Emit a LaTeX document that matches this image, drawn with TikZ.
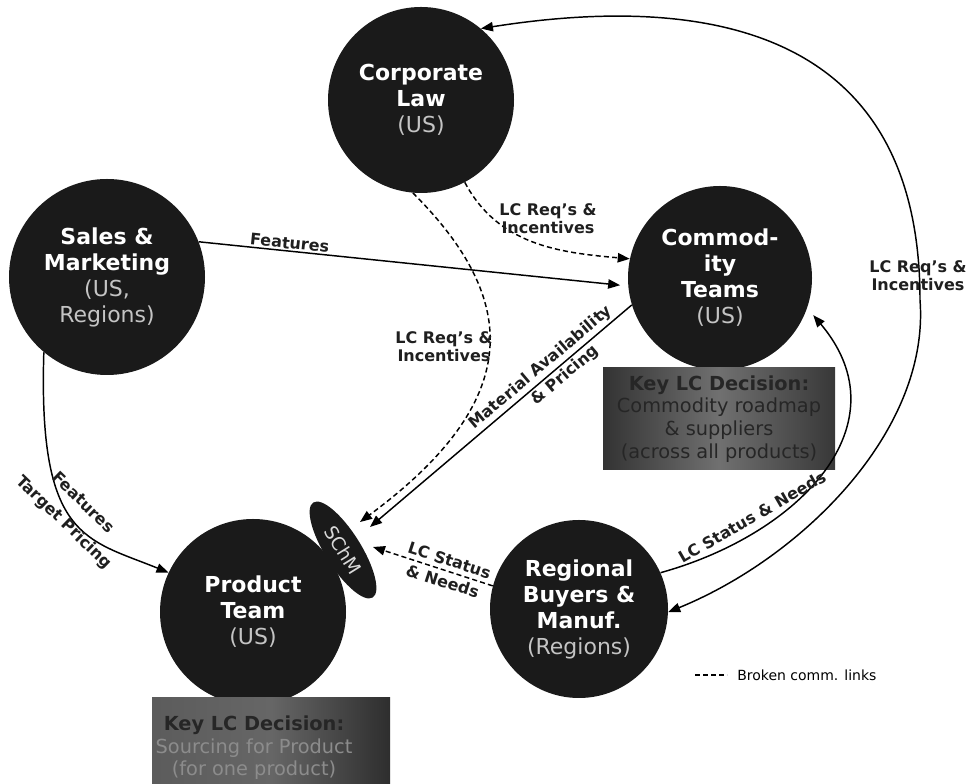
\documentclass[tikz,border=0pt]{standalone}
\usepackage{fontspec}
\setmainfont{DejaVu Sans}
\usetikzlibrary{arrows.meta,shapes.geometric}
\definecolor{hubfill}{HTML}{1A1A1A}
\definecolor{subgray}{HTML}{C4C4C4}
\definecolor{boxtext}{HTML}{262626}
\newcommand\hubsub[1]{{\mdseries\color{subgray}#1}}

\begin{document}
\begin{tikzpicture}[x=0.75pt,y=0.75pt,
  hub/.style={circle, fill=hubfill, inner sep=0pt, align=center, text=white,
    font=\fontsize{16.5}{19.5}\selectfont\bfseries},
  lab/.style={font=\fontsize{12}{13.5}\selectfont\bfseries, text=black!88,
    align=center, inner sep=1pt},
  tip/.tip={Triangle[length=9pt,width=7pt]},
  link/.style={line width=1.1pt, -tip},
  brk/.style={link, dash pattern=on 3.8pt off 2.4pt},
  keybox/.style={rectangle, inner sep=0pt, align=center,
    font=\fontsize{14.5}{17}\selectfont, text=boxtext},
]
\useasboundingbox (0,0) rectangle (971,784);
\clip (0,0) rectangle (971,784);
\fill[white] (0,0) rectangle (971,784);

% organisations
\node[hub, minimum size=139.5pt] (corp) at (421,684) {Corporate\\Law\\\hubsub{(US)}};
\node[hub, minimum size=147pt] (sales) at (107,507) {Sales \&\\Marketing\\\hubsub{(US,}\\\hubsub{Regions)}};
\node[hub, minimum size=138pt] (comm) at (720,506) {Commod-\\ity\\Teams\\\hubsub{(US)}};
\node[hub, minimum size=139.5pt] (prod) at (253,172) {Product\\Team\\\hubsub{(US)}};
\node[hub, minimum size=133.5pt] (reg) at (579,175) {Regional\\Buyers \&\\Manuf.\\\hubsub{(Regions)}};

% supply chain manager
\node[ellipse, fill=hubfill, minimum width=84pt, minimum height=27pt, inner sep=0pt,
  rotate=-58, text=white!85!black, font=\fontsize{14}{16}\selectfont] (schm) at (343,234) {SChM};
\coordinate (schmA) at (360,262);
\coordinate (schmB) at (370,257);
\coordinate (schmC) at (373,237);

% key decision boxes
\node[keybox, minimum width=174pt, minimum height=76.5pt,
  left color=black!80, right color=black!78, middle color=black!56] (commkey) at (719,365)
  {{\bfseries Key LC Decision:}\\Commodity roadmap\\\& suppliers\\(across all products)};
\node[keybox, minimum width=178.5pt, minimum height=76.5pt,
  left color=black!64, right color=black!82, middle color=black!60] (prodkey) at (271,35) {};
\node[keybox] (prodkeytext) at (254,36)
  {{\bfseries Key LC Decision:}\\{\color{black!45}Sourcing for Product}\\{\color{black!45}(for one product)}};

% communication links
\draw[link, shorten >=6pt] (sales.21) -- (comm.185)
  node[lab, above, sloped, pos=0.21] (lfeat) {Features};

\draw[brk] (corp.-62) to[out=-62, in=175] (comm.168);
\node[lab] (lreq1) at (548,565) {LC Req’s \&\\Incentives};

\draw[brk] (corp.-95) .. controls (520,484) and (525,384) .. (schmA);
\node[lab] (lreq2) at (444,437) {LC Req’s \&\\Incentives};

\draw[link] (comm.197) -- (schmB)
  node[lab, sloped, pos=0.32] (lmat) {Material Availability\\[3pt]\hspace*{20pt}\& Pricing};

\draw[brk] (reg.165) -- (schmC)
  node[lab, sloped, pos=0.39] (lstat1) {LC Status\\[3pt]\& Needs};

\draw[link, shorten >=7pt] (reg.24) .. controls (800,250) and (905,360) .. (comm.-19);
\node[lab, rotate=30] (lstat2) at (752,267) {LC Status \& Needs};

\coordinate (bigmid) at (920,484);
\draw[link, tip-tip] (reg.-2) .. controls (803,227) and (930,354) .. (bigmid)
  .. controls (920,760) and (700,790) .. (corp.50);
\node[lab] (lreq3) at (918,508) {LC Req’s \&\\Incentives};

\draw[link] (sales.230) .. controls (38,245) and (86,245) .. (prod.155);
\node[lab, rotate=-44] (lfeat2) at (73,271) {Features\\[7pt]Target Pricing};

% legend
\coordinate (lgA) at (695,109);
\coordinate (lgB) at (727,109);
\draw[line width=0.8pt, dash pattern=on 3.5pt off 2.5pt] (lgA) -- (lgB);
\node[anchor=west, font=\fontsize{10.5}{12}\selectfont, inner sep=0pt] (legend) at (737,109) {Broken comm. links};
\end{tikzpicture}
\end{document}
